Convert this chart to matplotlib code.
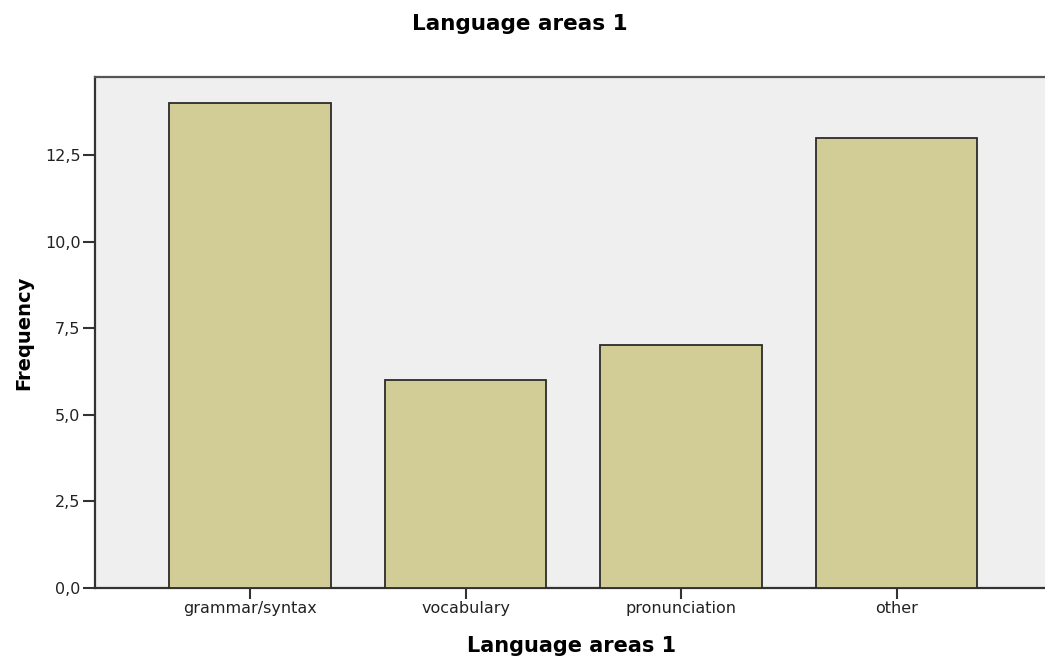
import matplotlib
matplotlib.use("Agg")
import matplotlib.pyplot as plt
from matplotlib.ticker import FuncFormatter

categories = ["grammar/syntax", "vocabulary", "pronunciation", "other"]
frequencies = [14, 6, 7, 13]
y_ticks = [0.0, 2.5, 5.0, 7.5, 10.0, 12.5]
title = "Language areas 1"
x_label = "Language areas 1"
y_label = "Frequency"

plt.rcParams['font.family'] = ['DejaVu Sans']

W, H = 1045, 656
fig = plt.figure(figsize=(W / 100, H / 100), dpi=100)
ax = fig.add_axes([95 / W, 68 / H, 960 / W, 511 / H])
ax.set_facecolor("#EFEFEF")

x = list(range(len(categories)))
ax.bar(x, frequencies, width=0.75, color="#D2CD96", edgecolor="#2b2b2b", linewidth=1.3, zorder=3)

ax.set_xlim(-0.72, 3.735)
ax.set_ylim(0, 14.75)
ax.set_yticks(y_ticks)
ax.yaxis.set_major_formatter(FuncFormatter(lambda v, p: f"{v:.1f}".replace(".", ",")))
ax.set_xticks(x)
ax.set_xticklabels(categories)

for s in ["top", "left", "bottom"]:
    ax.spines[s].set_color("#333333")
    ax.spines[s].set_linewidth(1.6)
ax.spines["top"].set_color("#555555")
ax.spines["right"].set_visible(False)

ax.tick_params(axis="y", direction="out", length=9, width=1.5, color="#333333",
               labelsize=11.5, pad=1.5, labelcolor="#222222")
ax.tick_params(axis="x", direction="out", length=8, width=1.5, color="#333333",
               labelsize=11.5, pad=1.5, labelcolor="#222222")

fig.text(572 / W, 1 - 652 / H, x_label, ha="center", va="baseline",
         fontsize=15, fontweight="bold")
fig.text(24 / W, 1 - 332.5 / H, y_label, ha="center", va="center", rotation=90,
         fontsize=14, fontweight="bold")
fig.text(520 / W, 1 - 30 / H, title, ha="center", va="baseline",
         fontsize=15.5, fontweight="bold")

fig.savefig("out.png", dpi=100, facecolor="white")
